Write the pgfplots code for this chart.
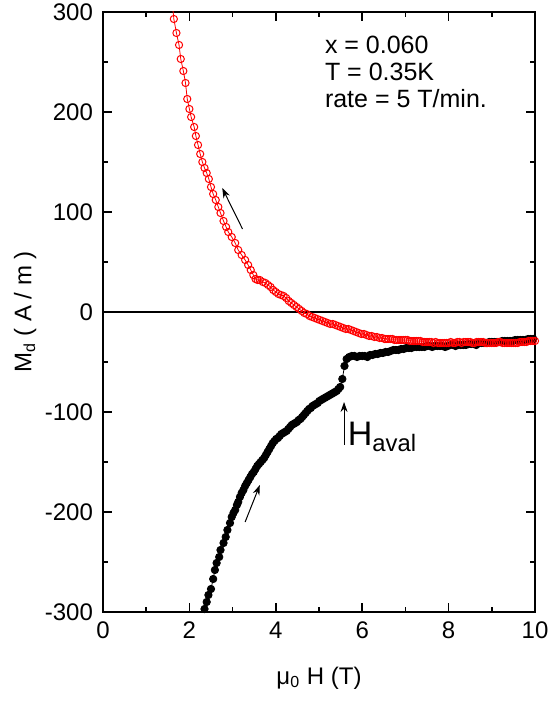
\documentclass[border=0pt]{standalone}
\usepackage{fontspec}
\setmainfont{Liberation Sans}
\usepackage{pgfplots}
\pgfplotsset{compat=1.18}
\usetikzlibrary{arrows.meta}
\begin{document}
\begin{tikzpicture}
\useasboundingbox (-51.5pt,-46pt) rectangle (223.5pt,306pt);
\begin{axis}[
  scale only axis, width=216pt, height=300pt,
  xmin=0, xmax=10, ymin=-300, ymax=300,
  xtick={0,2,4,6,8,10}, minor xtick={1,3,5,7,9},
  ytick={-300,-200,-100,0,100,200,300},
  minor ytick={-250,-150,-50,50,150,250},
  tick align=inside,
  major tick length=4.5pt, minor tick length=2.5pt,
  every tick/.style={black, line width=0.8pt},
  axis line style={line width=1pt},
  /pgf/number format/assume math mode=true,
  tick label style={font=\fontsize{12}{14}\selectfont},
  xticklabel style={yshift=-1.5pt},
  yticklabel style={xshift=-1.5pt},
  xlabel={μ\textsubscript{0} H (T)},
  ylabel={M\textsubscript{d} ( A / m )},
  label style={font=\fontsize{12}{14}\selectfont},
  xlabel style={at={(axis description cs:0.5,-0.11)}, anchor=center},
  ylabel style={at={(axis description cs:-0.18,0.5)}, anchor=center},
]
\addplot[black, line width=1pt] coordinates {(0,0) (10,0)};
% black branch (up sweep)
\addplot[black, line width=0.4pt, forget plot] coordinates {(2.33,-306) (2.35,-297)};
\addplot[black, line width=0.4pt, mark=*, mark size=1.85pt, mark options={fill=black}] coordinates {
(2.35,-297) (2.40,-290) (2.44,-283) (2.50,-277) (2.55,-267) (2.59,-258) (2.63,-251)
(2.69,-245) (2.72,-238) (2.79,-231) (2.84,-225) (2.88,-218) (2.94,-211) (2.98,-205)
(3.02,-201) (3.06,-198) (3.10,-193) (3.13,-190) (3.17,-185) (3.21,-181) (3.25,-178)
(3.29,-174) (3.33,-171) (3.37,-168) (3.41,-165) (3.45,-162) (3.49,-160) (3.53,-157)
(3.57,-154) (3.61,-152) (3.65,-150) (3.69,-148) (3.73,-146) (3.77,-143) (3.81,-140)
(3.85,-137) (3.89,-134) (3.93,-131) (3.97,-129) (4.01,-127) (4.05,-126) (4.09,-124)
(4.13,-122) (4.17,-121) (4.21,-120) (4.25,-119) (4.29,-117) (4.33,-115) (4.37,-113)
(4.41,-112) (4.45,-111) (4.49,-110) (4.53,-108) (4.57,-107) (4.61,-105) (4.65,-103)
(4.69,-101) (4.73,-99) (4.77,-97) (4.81,-96) (4.85,-94) (4.89,-93) (4.93,-92)
(4.97,-91) (5.01,-89) (5.05,-88) (5.09,-87) (5.13,-86) (5.17,-85) (5.21,-84)
(5.25,-83) (5.29,-82) (5.33,-81) (5.37,-80) (5.41,-79) (5.45,-77) (5.49,-75)
(5.54,-67) (5.59,-54) (5.64,-47) (5.70,-45) (5.76,-44) (5.82,-44) (5.88,-45)
(5.94,-44) (6.00,-44) (6.06,-44) (6.12,-45) (6.18,-43) (6.24,-43) (6.30,-42)
(6.36,-42) (6.42,-41) (6.48,-41) (6.54,-40) (6.60,-40) (6.66,-39) (6.72,-38)
(6.78,-38) (6.84,-38) (6.90,-37) (6.96,-37) (7.02,-36) (7.08,-36) (7.14,-36)
(7.20,-35) (7.26,-35) (7.32,-35) (7.38,-35) (7.44,-35) (7.50,-34) (7.56,-34)
(7.62,-35) (7.68,-34) (7.74,-34) (7.80,-34) (7.86,-34) (7.92,-35) (7.98,-34)
(8.04,-33) (8.10,-33) (8.16,-34) (8.22,-33) (8.28,-33) (8.34,-33) (8.40,-33)
(8.46,-32) (8.52,-32) (8.58,-32) (8.64,-33) (8.70,-31) (8.76,-31) (8.82,-31)
(8.88,-31) (8.94,-30) (9.00,-30) (9.06,-30) (9.12,-30) (9.18,-30) (9.24,-29)
(9.30,-29) (9.36,-29) (9.42,-29) (9.48,-29) (9.54,-28) (9.60,-28) (9.66,-28)
(9.72,-28) (9.78,-28) (9.84,-27) (9.90,-27) (9.96,-27)
};
% red branch (down sweep)
\addplot[red, line width=0.4pt, forget plot] coordinates {(1.61,306) (1.64,293)};
\addplot[red, line width=0.4pt, mark=o, mark size=1.8pt, mark options={line width=0.5pt, fill=white}] coordinates {
(1.64,293) (1.70,279) (1.76,267) (1.80,253) (1.86,241) (1.91,229) (1.95,213)
(2.00,203) (2.04,195) (2.11,185) (2.15,176) (2.20,167) (2.25,158) (2.30,150)
(2.35,144) (2.40,139) (2.45,133) (2.50,125) (2.55,118) (2.61,112) (2.67,105)
(2.72,99) (2.79,91) (2.85,85) (2.90,80) (2.98,75) (3.06,69) (3.13,62)
(3.21,57) (3.29,52) (3.36,47) (3.42,42) (3.48,37) (3.53,33) (3.58,32)
(3.63,32) (3.70,30) (3.76,29) (3.82,27) (3.88,25) (3.94,22) (4.00,20)
(4.06,18) (4.12,17) (4.18,16) (4.24,14) (4.30,11) (4.36,9) (4.42,7)
(4.48,5) (4.54,3) (4.60,1) (4.66,-1) (4.72,-2) (4.78,-4) (4.84,-5)
(4.90,-6) (4.96,-7) (5.02,-8) (5.08,-9) (5.14,-10) (5.20,-11) (5.26,-12)
(5.32,-12) (5.38,-13) (5.44,-14) (5.50,-15) (5.56,-16) (5.62,-17) (5.68,-17)
(5.74,-18) (5.80,-19) (5.86,-20) (5.92,-21) (5.98,-22) (6.04,-22) (6.10,-23)
(6.16,-24) (6.22,-24) (6.28,-25) (6.34,-25) (6.40,-26) (6.46,-26) (6.52,-27)
(6.55,-27) (6.60,-27) (6.65,-27) (6.70,-27) (6.75,-28) (6.80,-28) (6.85,-28)
(6.90,-28) (6.95,-28) (7.00,-28) (7.05,-28) (7.10,-29) (7.15,-29) (7.20,-29)
(7.25,-29) (7.30,-29) (7.35,-29) (7.40,-30) (7.45,-30) (7.50,-30) (7.55,-30)
(7.60,-30) (7.65,-31) (7.70,-30) (7.75,-31) (7.80,-31) (7.85,-31) (7.90,-31)
(7.95,-31) (8.00,-31) (8.05,-30) (8.10,-31) (8.15,-31) (8.20,-30) (8.25,-30)
(8.30,-31) (8.35,-30) (8.40,-30) (8.45,-30) (8.50,-30) (8.55,-31) (8.60,-31)
(8.65,-30) (8.70,-30) (8.75,-30) (8.80,-30) (8.85,-31) (8.90,-31) (8.95,-31)
(9.00,-31) (9.05,-31) (9.10,-31) (9.15,-30) (9.20,-30) (9.25,-31) (9.30,-31)
(9.35,-31) (9.40,-31) (9.45,-31) (9.50,-31) (9.55,-31) (9.60,-31) (9.65,-30)
(9.70,-30) (9.75,-30) (9.80,-30) (9.85,-29) (9.90,-29) (9.95,-29) (10.0,-29)
};
% annotations
\draw[-{Stealth[length=5pt,width=3.5pt]}, line width=0.5pt] (axis cs:3.23,83) -- (axis cs:2.76,124);
\draw[-{Stealth[length=5pt,width=3.5pt]}, line width=0.5pt] (axis cs:3.29,-210) -- (axis cs:3.63,-173);
\draw[-{Stealth[length=5pt,width=3.5pt]}, line width=0.5pt] (axis cs:5.58,-133) -- (axis cs:5.58,-90);
\node[anchor=west, inner sep=0pt, font=\fontsize{17}{19}\selectfont] at (axis cs:5.66,-125) {H\textsubscript{aval}};
\node[anchor=north west, inner sep=0pt, align=left, font=\fontsize{12.5}{13.5}\selectfont] at (axis cs:5.13,276) {x = 0.060\\T = 0.35K\\rate = 5 T/min.};
\end{axis}
\end{tikzpicture}
\end{document}
